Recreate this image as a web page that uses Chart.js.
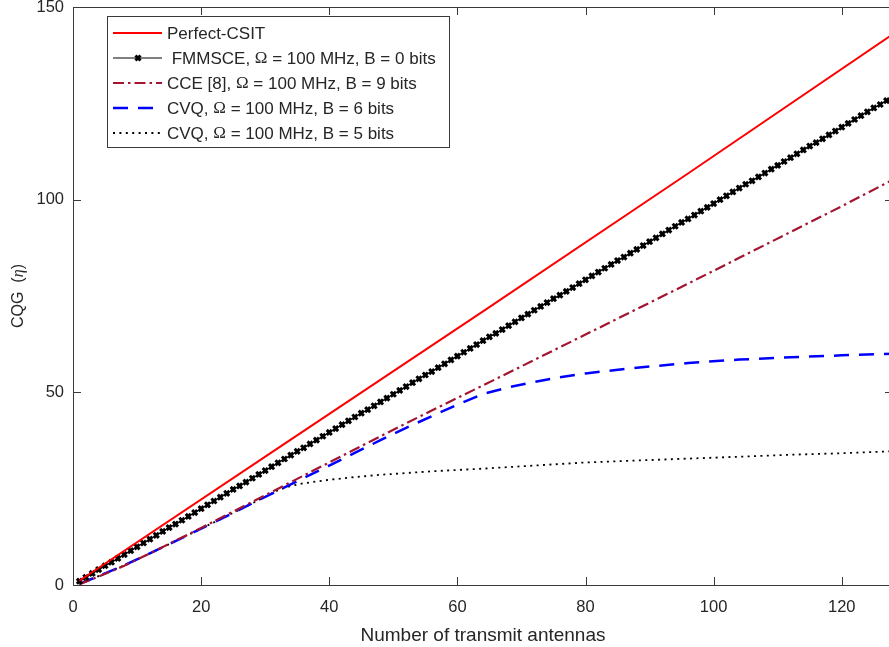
<!DOCTYPE html>
<html>
<head>
<meta charset="utf-8">
<script src="https://cdn.jsdelivr.net/npm/chart.js@4.4.1/dist/chart.umd.min.js"></script>
<style>
  html, body { margin: 0; padding: 0; background: #fff; overflow: hidden; }
  #wrap { width: 889px; height: 647px; overflow: hidden; }
</style>
</head>
<body>
<div id="wrap"><canvas id="cqg" width="900" height="647"></canvas></div>
<script>
// number of transmit antennas (one marker per value for FMMSCE)
const antennas = [1,2,3,4,5,6,7,8,9,10,11,12,13,14,15,16,17,18,19,20,21,22,23,24,25,26,27,28,29,30,31,32,
  33,34,35,36,37,38,39,40,41,42,43,44,45,46,47,48,49,50,51,52,53,54,55,56,57,58,59,60,61,62,63,64,
  65,66,67,68,69,70,71,72,73,74,75,76,77,78,79,80,81,82,83,84,85,86,87,88,89,90,91,92,93,94,95,96,
  97,98,99,100,101,102,103,104,105,106,107,108,109,110,111,112,113,114,115,116,117,118,119,120,121,122,123,124,125,126,127,128];

const fmmsce = [1.0,2.0,3.0,4.0,5.0,5.9,6.9,7.9,8.9,9.9,10.9,11.9,12.9,13.9,14.9,15.8,16.8,17.8,18.8,19.8,20.8,21.8,22.8,23.8,24.8,25.7,26.7,27.7,28.7,29.7,30.7,31.7,
  32.7,33.7,34.7,35.6,36.6,37.6,38.6,39.6,40.6,41.6,42.6,43.6,44.6,45.5,46.5,47.5,48.5,49.5,50.5,51.5,52.5,53.5,54.5,55.4,56.4,57.4,58.4,59.4,60.4,61.4,62.4,63.4,
  64.4,65.3,66.3,67.3,68.3,69.3,70.3,71.3,72.3,73.3,74.3,75.2,76.2,77.2,78.2,79.2,80.2,81.2,82.2,83.2,84.2,85.1,86.1,87.1,88.1,89.1,90.1,91.1,92.1,93.1,94.1,95.0,
  96.0,97.0,98.0,99.0,100.0,101.0,102.0,103.0,104.0,104.9,105.9,106.9,107.9,108.9,109.9,110.9,111.9,112.9,113.9,114.8,115.8,116.8,117.8,118.8,119.8,120.8,121.8,122.8,123.8,124.7,125.7,126.7];

const perfectN = [1, 32, 64, 96, 128];
const perfect  = [1.1, 35.5, 71.0, 106.8, 143.0];

const cceN = [1, 4, 8, 12, 16, 20, 24, 28, 32, 40, 48, 56, 64, 72, 80, 88, 96, 104, 112, 120, 128];
const cce  = [0.2, 2.2, 5.0, 8.2, 11.5, 14.8, 18.2, 21.6, 25.0, 31.8, 38.6, 45.3, 51.8, 58.4, 65.0, 71.6, 78.2, 84.9, 91.6, 98.3, 105.2];

const cvq6N = [1, 4, 8, 12, 16, 20, 24, 28, 32, 40, 48, 52, 56, 60, 64, 68, 72, 76, 80, 88, 96, 104, 112, 120, 128];
const cvq6  = [0.3, 2.3, 5.1, 8.2, 11.4, 14.6, 17.9, 21.2, 24.5, 31.0, 37.6, 40.8, 43.8, 46.8, 49.6, 51.3, 52.7, 53.9, 54.9, 56.4, 57.6, 58.5, 59.1, 59.6, 60.0];

const cvq5N = [1, 4, 8, 12, 16, 20, 24, 28, 32, 34, 36, 40, 44, 48, 56, 64, 72, 80, 88, 96, 104, 112, 120, 128];
const cvq5  = [0.3, 2.3, 5.1, 8.2, 11.4, 14.6, 17.9, 21.2, 24.6, 25.7, 26.4, 27.3, 28.0, 28.6, 29.5, 30.2, 31.0, 31.8, 32.3, 32.8, 33.3, 33.8, 34.2, 34.7];

const xTicks = [0, 20, 40, 60, 80, 100, 120];
const yTicks = [0, 50, 100, 150];

const pts = (xs, ys) => xs.map((x, i) => ({ x: x, y: ys[i] }));

const axisColor = '#3a3a3a';
const textColor = '#262626';
const sans = '"Liberation Sans", Arial, Helvetica, sans-serif';
const serif = '"Liberation Serif", "Times New Roman", serif';

// draw a string, putting every Ω in a serif face like the TeX rendering
function richText(ctx, str, x, y, size) {
  str.split(/(Ω)/).forEach(part => {
    if (!part) return;
    ctx.font = (part === 'Ω' ? size + 'px ' + serif : size + 'px ' + sans);
    ctx.fillText(part, x, y);
    x += ctx.measureText(part).width;
  });
}

const framePlugin = {
  id: 'frame',
  afterDraw(chart) {
    const ctx = chart.ctx;
    const a = chart.chartArea;
    const xs = chart.scales.x, ys = chart.scales.y;
    ctx.save();
    ctx.strokeStyle = axisColor;
    ctx.lineWidth = 1;
    ctx.strokeRect(a.left + 0.5, a.top + 0.5, a.right - a.left, a.bottom - a.top);
    // inward ticks on all four sides
    ctx.beginPath();
    xTicks.forEach(v => {
      const px = Math.round(xs.getPixelForValue(v)) + 0.5;
      ctx.moveTo(px, a.bottom); ctx.lineTo(px, a.bottom - 8);
      ctx.moveTo(px, a.top); ctx.lineTo(px, a.top + 8);
    });
    yTicks.forEach(v => {
      const py = Math.round(ys.getPixelForValue(v)) + 0.5;
      ctx.moveTo(a.left, py); ctx.lineTo(a.left + 8, py);
      ctx.moveTo(a.right, py); ctx.lineTo(a.right - 8, py);
    });
    ctx.stroke();

    // y axis title with italic eta
    ctx.fillStyle = textColor;
    ctx.translate(19, (a.top + a.bottom) / 2);
    ctx.rotate(-Math.PI / 2);
    ctx.textBaseline = 'middle';
    const parts = [['CQG  (', '16px ' + sans], ['η', 'italic 16px ' + serif], [')', '16px ' + sans]];
    let w = 0;
    parts.forEach(p => { ctx.font = p[1]; w += ctx.measureText(p[0]).width; });
    let x = -w / 2;
    parts.forEach(p => { ctx.font = p[1]; ctx.fillText(p[0], x, 0); x += ctx.measureText(p[0]).width; });
    ctx.restore();

    // legend box
    ctx.save();
    const bx = 107, by = 16, bw = 342, bh = 131;
    ctx.fillStyle = '#fff';
    ctx.fillRect(bx, by, bw, bh);
    ctx.strokeStyle = axisColor;
    ctx.lineWidth = 1;
    ctx.strokeRect(bx + 0.5, by + 0.5, bw, bh);
    ctx.textBaseline = 'middle';
    chart.data.datasets.forEach((ds, i) => {
      const cy = 33 + i * 25;
      ctx.save();
      ctx.strokeStyle = ds.borderColor;
      ctx.lineWidth = ds.borderWidth;
      ctx.setLineDash(ds.borderDash || []);
      ctx.beginPath();
      ctx.moveTo(113, cy); ctx.lineTo(162, cy);
      ctx.stroke();
      if (ds.pointRadius > 0) {
        ctx.setLineDash([]);
        ctx.lineWidth = ds.pointBorderWidth;
        const r = ds.pointRadius * 0.7;
        ctx.beginPath();
        ctx.moveTo(138 - r, cy - r); ctx.lineTo(138 + r, cy + r);
        ctx.moveTo(138 - r, cy + r); ctx.lineTo(138 + r, cy - r);
        ctx.stroke();
      }
      ctx.restore();
      ctx.fillStyle = textColor;
      richText(ctx, ds.label, 167, cy + 1, 17);
    });
    ctx.restore();
  }
};

new Chart(document.getElementById('cqg'), {
  type: 'scatter',
  data: {
    datasets: [{
      label: 'Perfect-CSIT',
      data: pts(perfectN, perfect),
      showLine: true,
      borderColor: '#ff0000',
      borderWidth: 2,
      pointRadius: 0
    }, {
      label: ' FMMSCE, Ω = 100 MHz, B = 0 bits',
      data: pts(antennas, fmmsce),
      showLine: true,
      borderColor: '#000000',
      backgroundColor: '#000000',
      borderWidth: 1,
      pointStyle: 'crossRot',
      pointRadius: 3.6,
      pointBorderWidth: 3,
      pointBorderColor: '#000000'
    }, {
      label: 'CCE [8], Ω = 100 MHz, B = 9 bits',
      data: pts(cceN, cce),
      showLine: true,
      borderColor: '#a2142f',
      borderWidth: 2.2,
      borderDash: [11, 4, 2.5, 4],
      pointRadius: 0
    }, {
      label: 'CVQ, Ω = 100 MHz, B = 6 bits',
      data: pts(cvq6N, cvq6),
      showLine: true,
      borderColor: '#0000ff',
      borderWidth: 2.5,
      borderDash: [15, 10],
      pointRadius: 0
    }, {
      label: 'CVQ, Ω = 100 MHz, B = 5 bits',
      data: pts(cvq5N, cvq5),
      showLine: true,
      borderColor: '#000000',
      borderWidth: 1.8,
      borderDash: [2, 4.4],
      pointRadius: 0
    }]
  },
  options: {
    responsive: false,
    animation: false,
    layout: { padding: { top: 7, right: 6, left: 0, bottom: 0 } },
    plugins: { legend: { display: false }, tooltip: { enabled: false } },
    elements: { line: { tension: 0 } },
    scales: {
      x: {
        type: 'linear',
        min: 0, max: 128,
        afterBuildTicks: s => { s.ticks = xTicks.map(v => ({ value: v })); },
        afterFit: s => { s.height = 62; s.paddingLeft = 0; s.paddingRight = 0; },
        grid: { display: false, drawTicks: false },
        border: { display: false },
        ticks: { color: textColor, font: { family: sans, size: 16.5 }, padding: 13, maxRotation: 0 },
        title: { display: true, text: 'Number of transmit antennas', color: textColor,
                 font: { family: sans, size: 19 }, padding: { top: 0, bottom: 0 } }
      },
      y: {
        type: 'linear',
        min: 0, max: 150,
        afterBuildTicks: s => { s.ticks = yTicks.map(v => ({ value: v })); },
        afterFit: s => { s.width = 73; s.paddingTop = 0; s.paddingBottom = 0; },
        grid: { display: false, drawTicks: false },
        border: { display: false },
        ticks: { color: textColor, font: { family: sans, size: 16.5 }, padding: 9 }
      }
    }
  },
  plugins: [framePlugin]
});
</script>
</body>
</html>
